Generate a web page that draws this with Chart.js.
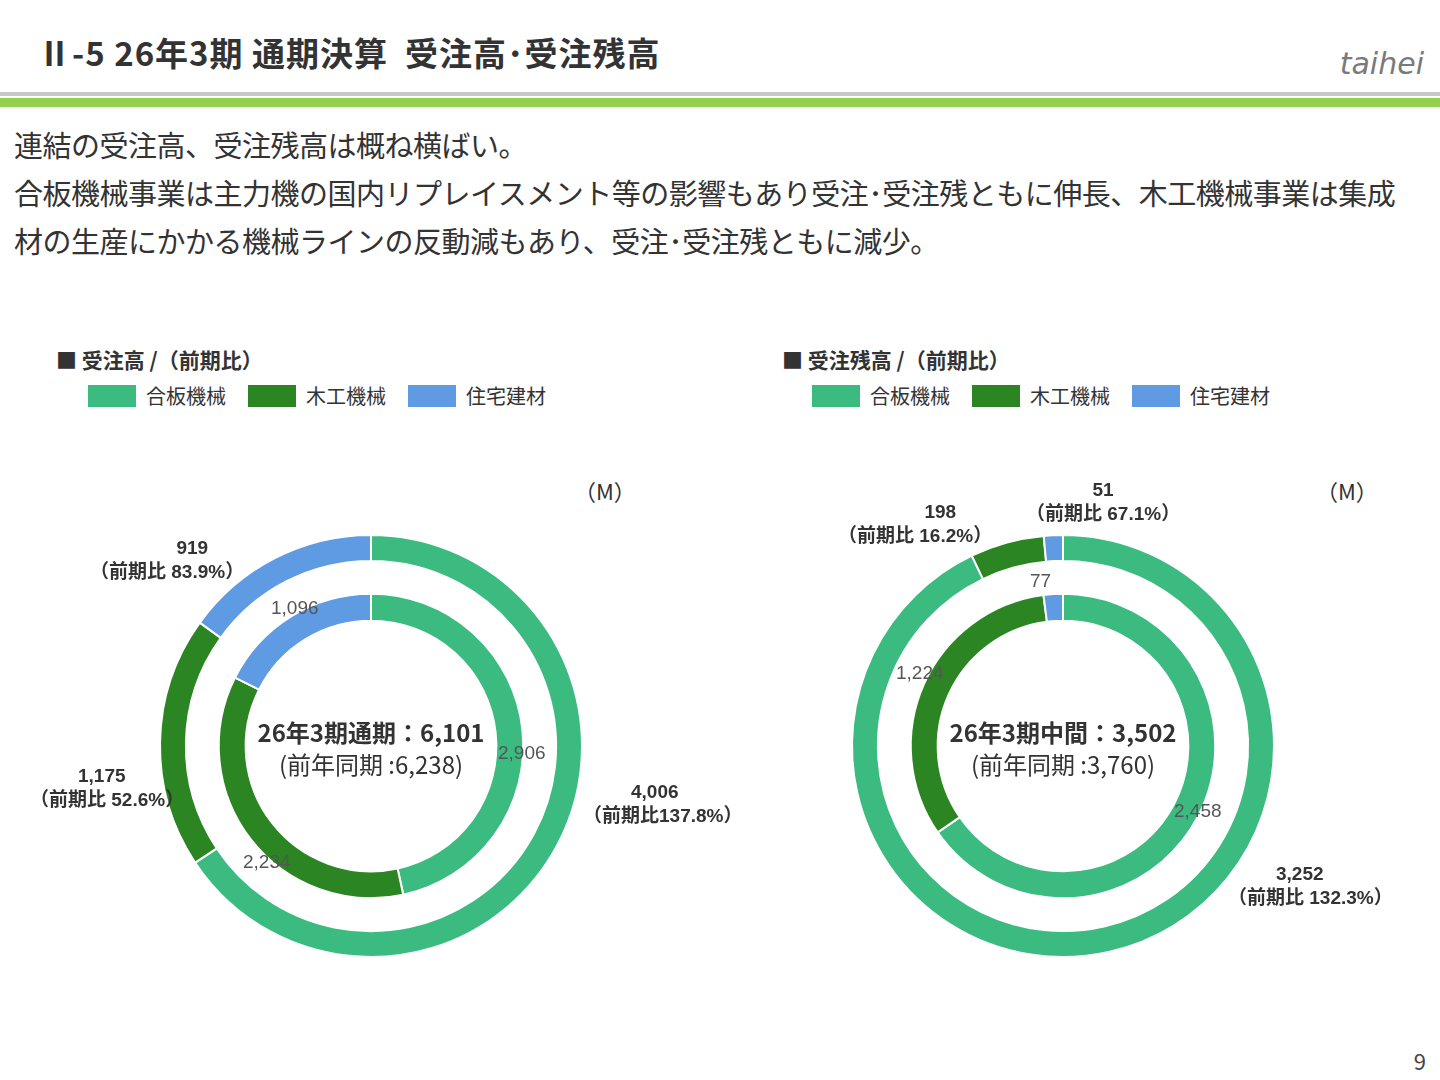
<!DOCTYPE html>
<html><head><meta charset="utf-8">
<script src="https://cdn.jsdelivr.net/npm/chart.js@4.4.1/dist/chart.umd.min.js"></script>
<style>
body{margin:0;width:1440px;height:1080px;background:#fff;font-family:"Noto Sans CJK JP","Noto Sans",sans-serif;color:#333;position:relative;overflow:hidden}
.abs{position:absolute;white-space:nowrap}
.title{left:38px;top:28px;font-size:33px;font-weight:bold;color:#333;letter-spacing:1px}
.logo{right:16px;top:46px;font-size:30px;font-style:italic;color:#7a7a7a;font-family:"DejaVu Sans",sans-serif}
.line1{left:0;top:92px;width:1440px;height:4px;background:#c8c8c8}
.line2{left:0;top:98px;width:1440px;height:9px;background:#92d050}
.body{left:14px;top:120px;font-size:29px;line-height:48px;color:#333;letter-spacing:-0.5px}
.head{font-size:21px;font-weight:bold}
.leg{font-size:20px;display:flex;align-items:center}
.leg span{display:inline-block;width:48px;height:22px;margin-right:10px}
.leg i{display:inline-block;width:22px}
.lbl{font-family:Arial,"Noto Sans CJK JP",sans-serif;font-weight:bold;font-size:19px;line-height:24px;color:#333}
.val{font-family:Arial,sans-serif;font-size:19px;color:#555}
.ctr{text-align:center;font-size:24px;line-height:32px}
canvas{position:absolute}
</style></head><body>
<div class="abs title">Ⅱ-5 26年3期 通期決算&nbsp;&nbsp;受注高･受注残高</div>
<div class="abs logo">taihei</div>
<div class="abs line1"></div><div class="abs line2"></div>
<div class="abs body">連結の受注高、受注残高は概ね横ばい。<br>合板機械事業は主力機の国内リプレイスメント等の影響もあり受注･受注残ともに伸長、木工機械事業は集成<br>材の生産にかかる機械ラインの反動減もあり、受注･受注残ともに減少。</div>

<div class="abs head" style="left:56px;top:344px">■ 受注高 /（前期比）</div>
<div class="abs head" style="left:782px;top:344px">■ 受注残高 /（前期比）</div>
<div class="abs leg" style="left:88px;top:381px"><span style="background:#3bbb7f"></span>合板機械<i></i><span style="background:#2a8522"></span>木工機械<i></i><span style="background:#5e9be3"></span>住宅建材</div>
<div class="abs leg" style="left:812px;top:381px"><span style="background:#3bbb7f"></span>合板機械<i></i><span style="background:#2a8522"></span>木工機械<i></i><span style="background:#5e9be3"></span>住宅建材</div>
<div class="abs" style="left:574px;top:474px;font-size:22px">（M）</div>
<div class="abs" style="left:1316px;top:474px;font-size:22px">（M）</div>
<div class="abs" style="right:14px;top:1044px;font-size:22px;color:#444">9</div>

<canvas id="c1" width="440" height="440" style="left:151px;top:526px;width:440px;height:440px"></canvas>
<canvas id="c2" width="440" height="440" style="left:843px;top:526px;width:440px;height:440px"></canvas>

<div class="abs ctr" style="left:221px;top:716px;width:300px"><b>26年3期通期：6,101</b><br>(前年同期 :6,238)</div>
<div class="abs ctr" style="left:913px;top:716px;width:300px"><b>26年3期中間：3,502</b><br>(前年同期 :3,760)</div>
<div id="labels"></div>

<script>
const categories = ['合板機械', '木工機械', '住宅建材'];
const colors = ['#3bbb7f', '#2a8522', '#5e9be3'];
const ordersNow = [4006, 1175, 919];
const ordersPrev = [2906, 2234, 1096];
const ordersRatio = ['137.8', '52.6', '83.9'];
const backlogNow = [3252, 198, 51];
const backlogPrev = [2458, 1224, 77];
const backlogRatio = ['132.3', '16.2', '67.1'];

const fmt = v => v.toLocaleString('en-US');

function makeDonut(id, now, prev) {
  new Chart(document.getElementById(id), {
    type: 'doughnut',
    data: {
      labels: categories,
      datasets: [
        { data: now, backgroundColor: colors, borderColor: '#fff', borderWidth: 2, weight: 26 },
        { data: [1], backgroundColor: 'rgba(0,0,0,0)', borderWidth: 0, weight: 33 },
        { data: prev, backgroundColor: colors, borderColor: '#fff', borderWidth: 2, weight: 27 }
      ]
    },
    options: {
      responsive: false, animation: false, cutout: '59.4%',
      layout: { padding: 8 },
      plugins: { legend: { display: false }, tooltip: { enabled: false } }
    }
  });
}
makeDonut('c1', ordersNow, ordersPrev);
makeDonut('c2', backlogNow, backlogPrev);

// [left, top, first line, second line, align of first line]
const labels = [
  [583, 780, fmt(ordersNow[0]), `（前期比${ordersRatio[0]}%）`, 'left', 'lbl'],
  [30, 764, fmt(ordersNow[1]), `（前期比 ${ordersRatio[1]}%）`, 'left', 'lbl'],
  [90, 536, fmt(ordersNow[2]), `（前期比 ${ordersRatio[2]}%）`, 'right', 'lbl'],
  [1228, 862, fmt(backlogNow[0]), `（前期比 ${backlogRatio[0]}%）`, 'left', 'lbl'],
  [838, 500, fmt(backlogNow[1]), `（前期比 ${backlogRatio[1]}%）`, 'right', 'lbl'],
  [1026, 478, fmt(backlogNow[2]), `（前期比 ${backlogRatio[2]}%）`, 'center', 'lbl'],
  [498, 742, fmt(ordersPrev[0]), '', '', 'val'],
  [243, 851, fmt(ordersPrev[1]), '', '', 'val'],
  [271, 597, fmt(ordersPrev[2]), '', '', 'val'],
  [1174, 800, fmt(backlogPrev[0]), '', '', 'val'],
  [896, 662, fmt(backlogPrev[1]), '', '', 'val'],
  [1030, 570, fmt(backlogPrev[2]), '', '', 'val']
];
const pad = { left: 'padding-left:48px', right: 'text-align:right;padding-right:36px', center: 'text-align:center' };
document.getElementById('labels').innerHTML = labels.map(l => {
  const html = l[5] === 'lbl' ? `<div style="${pad[l[4]]}">${l[2]}</div><div>${l[3]}</div>` : l[2];
  return `<div class="abs ${l[5]}" style="left:${l[0]}px;top:${l[1]}px">${html}</div>`;
}).join('');
</script>
</body></html>
